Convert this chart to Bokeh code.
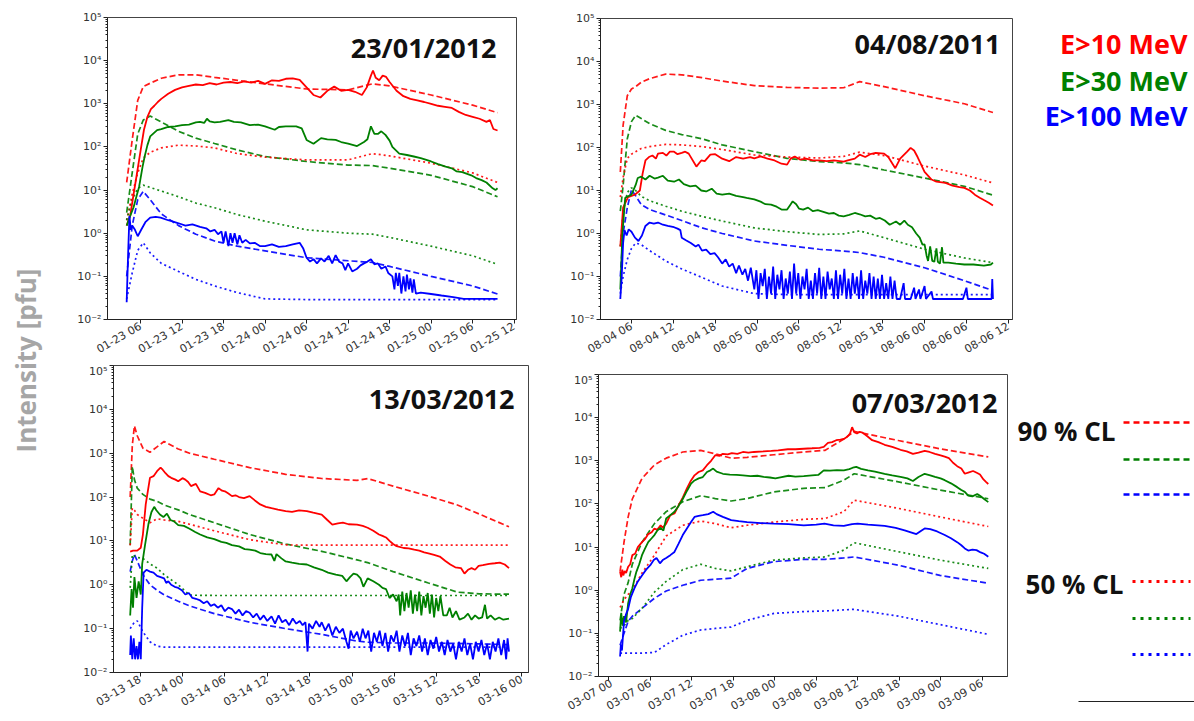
import math
import numpy as np
from bokeh.plotting import figure
from bokeh.layouts import row, column
from bokeh.models import Range1d, FixedTicker, CustomJSTickFormatter, Label, Spacer
from bokeh.embed import file_html
from bokeh.resources import INLINE

RED, GREEN, BLUE = "#ff0000", "#008000", "#0000ff"
FONT = "Open Sans"
TICK_FONT = "DejaVu Sans"

# ============================ DATA ============================
# hours are counted from each panel's base date (UTC)

# ---- Panel 1 : 23/01/2012 ----
p1_base = "2012-01-23T00:00"
p1_title = "23/01/2012"
p1_xlim = (1.23, 60.34)
p1_ticks = [6, 12, 18, 24, 30, 36, 42, 48, 54, 60]
p1_t_cl = [4.0, 4.8, 5.6, 6.4, 7.4, 9, 11.5, 14, 16.7, 20, 24, 30, 36, 39.5, 42, 48, 54, 57.6]
p1_red90 = [15, 145, 1200, 2500, 3000, 3900, 4700, 4700, 4100, 3500, 2900, 2200, 2100, 2900, 2600, 1600, 930, 620]
p1_red50 = [2, 8, 25, 55, 75, 95, 110, 105, 95, 70, 58, 50, 50, 70, 62, 42, 25, 15]
p1_grn90 = [3, 25, 200, 420, 520, 380, 230, 160, 120, 85, 60, 46, 38, 37, 32, 22, 12, 7]
p1_grn50 = [2, 6, 11, 13, 11.5, 9.5, 7, 5, 3.9, 2.7, 1.9, 1.2, 1.0, 0.95, 0.8, 0.5, 0.3, 0.19]
p1_blu90 = [0.1, 1.5, 6, 9.3, 6, 2.8, 1.5, 0.95, 0.66, 0.5, 0.39, 0.27, 0.23, 0.21, 0.17, 0.1, 0.06, 0.039]
p1_blu50 = [0.03, 0.12, 0.4, 0.6, 0.35, 0.2, 0.13, 0.085, 0.06, 0.042, 0.03, 0.029, 0.029, 0.029, 0.029, 0.029, 0.029, 0.029]
p1_red = [(4.0, 1.5), (4.5, 2.5), (5.0, 8), (5.5, 25), (6.0, 80), (6.5, 250), (7.0, 500), (7.5, 750), (8, 900), (8.5, 1100),
          (9, 1300), (10, 1700), (11, 2100), (12, 2400), (13, 2600), (14, 2800), (15, 2700), (16, 3000), (17, 2800), (18, 3100),
          (19, 3200), (20, 3000), (21, 3300), (22, 3100), (23, 3400), (24, 2900), (25, 3500), (26, 3400), (27, 3800), (28, 3900),
          (29, 3600), (30, 2400), (31, 1600), (32, 1400), (33, 2000), (34, 2500), (35, 2000), (36, 2100), (37, 1900), (38, 1600),
          (38.7, 2400), (39.3, 4500), (39.6, 5900), (40, 4000), (40.5, 3500), (41, 4500), (41.5, 4200), (42, 3200), (43, 2000),
          (44, 1500), (45, 1300), (46, 1200), (47, 1100), (48, 1000), (49, 900), (50, 850), (51, 800), (52, 650), (53, 550),
          (54, 500), (55, 450), (56, 380), (56.5, 420), (57, 260), (57.6, 240)]
p1_grn = [(4.0, 1.5), (4.5, 2.5), (5.0, 4), (5.5, 8), (5.8, 12), (6.3, 35), (6.6, 60), (7.0, 110), (7.4, 175), (8.4, 245),
          (9, 260), (10, 290), (11, 300), (12, 320), (13, 330), (14, 370), (14.6, 380), (15.2, 360), (15.6, 450), (16, 390),
          (16.7, 370), (17.5, 380), (18.7, 420), (19.5, 380), (20.5, 370), (21.8, 320), (23, 330), (24, 300), (25.4, 250),
          (26, 290), (27, 300), (28.5, 300), (29.3, 270), (30, 145), (31, 118), (32.1, 160), (33, 150), (34.2, 145), (35, 130),
          (36, 120), (37.3, 105), (38.3, 130), (38.8, 150), (39.3, 300), (39.8, 200), (40.3, 200), (40.8, 230), (41.4, 190),
          (42, 140), (42.4, 100), (43.4, 70), (44.5, 65), (45.5, 60), (46.5, 55), (48, 46), (49, 40), (50.1, 35), (51, 32),
          (51.7, 27), (52.5, 26), (53.8, 22), (54.5, 19), (55.3, 17), (56, 15), (56.9, 11), (57.3, 10), (57.6, 11)]
p1_blu = [(4.0, 0.025), (4.2, 0.3), (4.4, 2.5), (4.6, 1.2), (4.8, 1.5), (5.2, 1.2), (5.6, 0.85), (6.1, 1.2), (6.7, 1.8),
          (7.4, 2.3), (8.2, 2.4), (8.9, 2.3), (10, 2.0), (10.5, 1.9), (11.5, 1.7), (12.5, 1.5), (13.5, 1.6), (14.6, 1.4),
          (15.5, 1.3), (16.1, 1.1), (16.7, 1.2), (17.2, 0.95), (17.7, 1.1), (18.0, 0.6), (18.3, 1.1), (18.7, 0.5), (19.0, 1.0),
          (19.3, 0.6), (19.6, 1.0), (20.0, 0.55), (20.3, 0.9), (20.7, 0.6), (21.2, 0.7), (21.8, 0.58), (22.5, 0.6), (23.3, 0.5),
          (24, 0.5), (25, 0.55), (26, 0.48), (27, 0.5), (28, 0.55), (29, 0.6), (29.5, 0.45), (30, 0.27), (30.5, 0.22),
          (31, 0.25), (31.5, 0.2), (32.1, 0.26), (32.6, 0.22), (33.2, 0.3), (33.7, 0.2), (34.2, 0.31), (34.7, 0.22),
          (35.2, 0.2), (35.6, 0.14), (36, 0.2), (36.6, 0.13), (37.3, 0.15), (37.8, 0.18), (38.3, 0.2), (38.8, 0.22),
          (39.3, 0.25), (39.8, 0.19), (40.3, 0.2), (40.8, 0.15), (41.4, 0.17), (41.8, 0.12), (42.4, 0.1), (42.7, 0.05),
          (42.9, 0.12), (43.2, 0.06), (43.4, 0.12), (43.7, 0.04), (44.0, 0.1), (44.3, 0.045), (44.5, 0.11), (44.8, 0.05),
          (45.0, 0.09), (45.3, 0.042), (45.5, 0.085), (45.8, 0.04), (46.5, 0.042), (48, 0.039), (49.5, 0.036),
          (51.2, 0.033), (52.7, 0.03), (55, 0.03), (57.6, 0.03)]

# ---- Panel 2 : 04/08/2011 ----
p2_base = "2011-08-04T00:00"
p2_title = "04/08/2011"
p2_xlim = (1.56, 60.6)
p2_ticks = [6, 12, 18, 24, 30, 36, 42, 48, 54, 60]
p2_t_cl = [4.4, 4.8, 5.4, 6.0, 6.6, 7.4, 8.6, 10.9, 13.2, 16.1, 19, 23.6, 28.3, 32.9, 36.4, 38.7, 42.2, 48, 53.7, 57.8]
p2_red90 = [27, 330, 1600, 2300, 2600, 3300, 4000, 5100, 4900, 4200, 3500, 2750, 2500, 2400, 2450, 3400, 2600, 1600, 1040, 650]
p2_red50 = [7, 20, 56, 70, 80, 95, 105, 118, 115, 105, 90, 67, 60, 57, 62, 78, 65, 37, 23, 15]
p2_grn90 = [3.3, 13, 160, 400, 560, 470, 360, 250, 200, 160, 115, 80, 56, 47, 44, 40, 30, 19.5, 12.5, 7.8]
p2_grn50 = [0.5, 3, 9, 11.5, 10, 7.3, 5.8, 4.3, 3.3, 2.5, 1.95, 1.35, 1.1, 0.95, 0.98, 1.15, 0.8, 0.43, 0.27, 0.21]
p2_blu90 = [0.1, 1, 4, 10.5, 7.5, 4.7, 3.6, 2.7, 2.0, 1.35, 1.0, 0.67, 0.53, 0.43, 0.39, 0.36, 0.28, 0.16, 0.08, 0.047]
p2_blu50 = [0.04, 0.1, 0.25, 0.45, 0.6, 0.55, 0.4, 0.23, 0.15, 0.095, 0.06, 0.04, 0.038, 0.038, 0.038, 0.038, 0.038, 0.038, 0.038, 0.038]
p2_red = [(4.4, 0.5), (4.8, 4), (5.5, 7), (6.5, 8), (7.2, 10), (7.6, 25), (8.0, 50), (8.5, 60), (9, 65), (9.5, 55),
          (9.8, 72), (10.5, 75), (11, 65), (11.5, 80), (12.1, 80), (12.6, 70), (13.2, 75), (13.7, 80), (14.2, 72), (15.3, 36),
          (16, 50), (16.5, 48), (17.3, 68), (18, 70), (19, 55), (20, 48), (21, 60), (22, 55), (23, 60), (23.6, 56),
          (24.5, 62), (25.5, 55), (26.5, 50), (27.5, 42), (28.3, 40), (28.8, 55), (29.4, 62), (30.2, 52), (31, 55), (32, 50),
          (32.9, 50), (34, 48), (35, 50), (36.4, 47), (37, 50), (38, 55), (38.7, 68), (39.5, 60), (40.2, 70), (41, 75),
          (42.2, 72), (42.8, 60), (43.8, 33), (44.5, 55), (45.5, 80), (46, 98), (46.5, 85), (47, 60), (48, 27), (49, 18),
          (49.7, 16), (51, 15), (52, 13), (53, 12), (53.7, 11.5), (54.5, 10), (55.2, 8), (55.9, 6.8), (56.5, 6), (57.2, 5.2),
          (57.8, 4.5)]
p2_grn = [(4.4, 0.05), (4.7, 1), (5.1, 6.8), (6.0, 8), (6.6, 13.5), (6.9, 19.5), (7.4, 21), (8.0, 18), (8.6, 22), (9.3, 19),
          (9.8, 20), (10.5, 22), (11.2, 17), (12.1, 16), (12.8, 18), (13.5, 14), (14.4, 12.5), (15.2, 13), (16, 10),
          (16.7, 9.5), (17.5, 11), (18.2, 8.5), (19, 8), (20, 8.5), (21, 7.5), (22, 7), (22.5, 6.7), (23.6, 6.2), (24.5, 5.5),
          (25.2, 4.8), (26, 4.7), (26.8, 4.2), (27.5, 3.6), (28.3, 3.6), (28.7, 4.5), (29.1, 5.6), (29.6, 4.8), (30.0, 3.8),
          (30.6, 3.6), (31.3, 4), (32, 3.3), (32.7, 3.5), (33.5, 3.2), (34.3, 2.9), (35, 3.0), (35.7, 2.6), (36.4, 2.5),
          (37.2, 2.7), (38, 3.0), (38.7, 2.8), (39.5, 2.5), (40.2, 2.6), (41, 2.2), (41.6, 2.3), (42.3, 2.0), (43, 1.6),
          (43.9, 1.9), (44.5, 1.6), (45.1, 2.0), (45.6, 1.6), (46.2, 1.4), (46.8, 1.0), (47.3, 0.8), (47.7, 0.55),
          (48.0, 0.56), (48.3, 0.3), (48.5, 0.23), (48.8, 0.5), (49.1, 0.23), (49.4, 0.22), (49.7, 0.45), (49.9, 0.22),
          (50.2, 0.2), (50.5, 0.48), (50.7, 0.21), (51.4, 0.21), (52.5, 0.2), (53.7, 0.19), (55, 0.19), (56.5, 0.18),
          (57.5, 0.19), (57.8, 0.21)]
p2_blu = [(4.4, 0.03), (4.6, 0.1), (4.8, 0.6), (5.0, 1.2), (5.3, 0.9), (5.6, 1.25), (6.0, 1.1), (6.5, 0.8), (7.0, 0.67),
          (7.5, 0.9), (8.0, 1.5), (8.6, 1.8), (9.2, 1.7), (9.8, 1.8), (10.5, 1.6), (11.2, 1.5), (12.1, 1.4), (12.6, 1.3),
          (13.0, 1.2), (13.2, 0.8), (13.8, 0.7), (14.5, 0.6), (15.2, 0.5), (15.6, 0.55), (16.1, 0.4), (16.7, 0.42),
          (17.3, 0.33), (17.9, 0.35), (18.4, 0.28), (19, 0.2), (19.5, 0.25), (20, 0.17), (20.5, 0.2), (21, 0.12), (21.4, 0.18),
          (21.9, 0.11), (22.3, 0.15), (22.7, 0.08), (23.1, 0.16), (23.6, 0.05), (23.9, 0.14), (24.2, 0.03), (24.5, 0.12),
          (24.8, 0.06), (25.1, 0.15), (25.4, 0.03), (25.7, 0.1), (26.0, 0.04), (26.3, 0.17), (26.6, 0.03), (26.9, 0.11),
          (27.2, 0.05), (27.5, 0.14), (27.8, 0.03), (28.1, 0.09), (28.4, 0.04), (28.7, 0.13), (29.0, 0.03), (29.3, 0.2),
          (29.6, 0.04), (29.9, 0.12), (30.2, 0.03), (30.5, 0.1), (30.8, 0.05), (31.1, 0.15), (31.4, 0.03), (31.7, 0.08),
          (32.0, 0.03), (32.3, 0.12), (32.6, 0.04), (32.9, 0.16), (33.2, 0.03), (33.5, 0.1), (33.8, 0.03), (34.1, 0.13),
          (34.4, 0.05), (34.7, 0.09), (35.0, 0.03), (35.3, 0.14), (35.6, 0.03), (35.9, 0.11), (36.2, 0.04), (36.5, 0.15),
          (36.8, 0.03), (37.1, 0.09), (37.4, 0.03), (37.7, 0.12), (38.0, 0.04), (38.3, 0.1), (38.6, 0.03), (38.9, 0.14),
          (39.2, 0.03), (39.5, 0.08), (39.8, 0.04), (40.1, 0.12), (40.4, 0.03), (40.7, 0.1), (41.0, 0.03), (41.3, 0.09),
          (41.6, 0.03), (41.9, 0.11), (42.2, 0.03), (42.5, 0.07), (42.8, 0.03), (43.1, 0.1), (43.4, 0.03), (43.7, 0.08),
          (44.0, 0.03), (44.5, 0.03), (45.0, 0.07), (45.2, 0.03), (46.0, 0.03), (46.5, 0.055), (46.7, 0.03), (47.2, 0.05),
          (47.4, 0.03), (48.0, 0.06), (48.2, 0.03), (49.0, 0.045), (49.2, 0.03), (50, 0.03), (52, 0.03), (53.5, 0.03),
          (54.0, 0.055), (54.2, 0.03), (56, 0.03), (57.6, 0.03), (57.7, 0.087), (57.8, 0.03)]

# ---- Panel 3 : 13/03/2012 ----
p3_base = "2012-03-13T00:00"
p3_title = "13/03/2012"
p3_xlim = (14.24, 72.96)
p3_ticks = [18, 24, 30, 36, 42, 48, 54, 60, 66, 72]
p3_t_cl = [16.6, 16.9, 17.2, 17.6, 18.4, 19.4, 20.4, 21.4, 23.4, 25, 28.5, 33.5, 38.6, 43.7, 48.7, 50.2, 53.8, 58.8, 62.9, 66, 70.2]
p3_red90 = [100, 1500, 4200, 2500, 1300, 1050, 1400, 1850, 1250, 1000, 730, 470, 330, 265, 240, 265, 178, 105, 66, 41, 21]
p3_red50 = [8, 56, 50, 40, 33, 26, 32, 30, 28, 24, 17, 10.7, 8.1, 8, 8, 8, 8, 8, 8, 8, 8]
p3_grn90 = [8, 500, 250, 160, 115, 90, 80, 66, 51, 40, 26, 14, 8.5, 5.8, 3.7, 3.2, 2.0, 1.1, 0.68, 0.62, 0.61]
p3_grn50 = [0.85, 4.9, 4.5, 4.2, 4.0, 3.0, 2.4, 1.7, 1.0, 0.58, 0.57, 0.57, 0.57, 0.57, 0.57, 0.57, 0.57, 0.57, 0.57, 0.57, 0.57]
p3_blu90 = [2, 3.5, 4.9, 3.5, 1.7, 1.0, 0.75, 0.59, 0.42, 0.33, 0.22, 0.14, 0.1, 0.074, 0.052, 0.049, 0.047, 0.047, 0.046, 0.045, 0.043]
p3_blu50 = [0.1, 0.12, 0.14, 0.15, 0.085, 0.05, 0.04, 0.038, 0.038, 0.038, 0.038, 0.038, 0.038, 0.038, 0.038, 0.038, 0.038, 0.038, 0.038, 0.038, 0.038]
p3_red = [(16.6, 5.7), (17.0, 6), (17.6, 6), (18.1, 7), (18.4, 14), (18.8, 68), (19.4, 275), (19.9, 300), (20.4, 390),
          (20.9, 470), (21.2, 420), (21.6, 350), (22.0, 300), (22.4, 275), (23.0, 250), (23.4, 230), (24.0, 270), (24.4, 250),
          (24.8, 220), (25.2, 178), (25.9, 200), (26.5, 135), (27.2, 125), (28.0, 110), (28.5, 115), (29.1, 160), (29.6, 140),
          (30, 135), (30.5, 120), (31, 105), (31.5, 110), (32, 100), (32.7, 95), (33.5, 105), (34.2, 85), (35, 68), (35.8, 60),
          (36.6, 56), (37.5, 52), (38.6, 48), (39.5, 46), (40.5, 50), (41.6, 48), (42.5, 44), (43.7, 40), (44.5, 30),
          (45.2, 23.5), (46, 25), (46.7, 26), (47.5, 24), (48.7, 23.5), (49.5, 22), (50.2, 20), (51, 17), (51.8, 14),
          (52.3, 13), (52.8, 12), (53.3, 10), (53.8, 8.5), (54.3, 7.6), (55.3, 6.9), (56, 6.8), (56.8, 6.3), (57.5, 6),
          (58.2, 5.5), (58.8, 5.2), (59.6, 4.8), (60.4, 4.4), (61.2, 3.5), (61.9, 2.9), (62.6, 2.5), (63.4, 2.4), (63.9, 1.8),
          (64.4, 2.2), (64.9, 2.4), (65.4, 2.2), (65.9, 2.7), (66.5, 2.8), (67.4, 3.0), (68.2, 3.1), (68.9, 3.2), (69.6, 2.9),
          (70.2, 2.4)]
p3_grn = [(16.6, 0.2), (16.8, 0.8), (17.0, 0.3), (17.2, 1.5), (17.5, 0.5), (17.8, 1.2), (18.1, 0.6), (18.3, 3), (18.7, 8),
          (19.2, 25), (19.6, 45), (20.0, 60), (20.3, 50), (20.8, 40), (21.3, 35), (21.8, 42), (22.3, 30), (22.8, 28),
          (23.4, 23), (24.2, 22), (25, 19), (25.8, 16), (26.5, 14), (27.5, 12), (28.5, 11), (29.5, 9.5), (30.2, 9), (31, 8),
          (32, 7.5), (32.8, 6.5), (33.5, 6.3), (34.3, 6), (35, 5.3), (35.8, 5), (36.6, 4.9), (37.0, 3.5), (37.3, 5), (38.0, 4),
          (38.6, 3.4), (39.5, 3.2), (40.5, 3.0), (41.6, 2.9), (42.6, 2.5), (43.7, 2.2), (44.6, 1.9), (45.7, 1.7), (46.6, 1.6),
          (47.2, 1.2), (47.7, 1.5), (48.2, 1.8), (48.7, 1.7), (49.2, 1.4), (49.6, 0.9), (50.2, 1.4), (51.0, 1.2), (51.8, 1.0),
          (52.3, 0.85), (52.8, 0.8), (53.3, 0.5), (53.8, 0.6), (54.3, 0.42), (54.6, 0.6), (54.8, 0.2), (55.1, 0.7),
          (55.4, 0.25), (55.7, 0.65), (56.0, 0.3), (56.3, 0.75), (56.6, 0.22), (56.9, 0.6), (57.2, 0.25), (57.5, 0.7),
          (57.8, 0.2), (58.1, 0.55), (58.4, 0.3), (58.7, 0.65), (59.0, 0.22), (59.3, 0.6), (59.6, 0.18), (59.9, 0.5),
          (60.2, 0.25), (60.5, 0.55), (60.9, 0.2), (61.4, 0.2), (61.8, 0.3), (62.2, 0.18), (62.7, 0.25), (63.2, 0.16),
          (63.9, 0.18), (64.4, 0.22), (64.9, 0.16), (65.4, 0.2), (65.9, 0.17), (66.4, 0.18), (66.8, 0.35), (67.1, 0.17),
          (67.6, 0.2), (68.2, 0.16), (68.8, 0.18), (69.4, 0.16), (70.2, 0.17)]
p3_blu = [(16.6, 0.025), (16.7, 0.07), (16.9, 0.02), (17.1, 0.06), (17.3, 0.02), (17.5, 0.04), (17.7, 0.02), (17.9, 0.05),
          (18.1, 0.02), (18.3, 0.3), (18.5, 1.9), (18.9, 2.2), (19.4, 2.0), (19.9, 1.9), (20.4, 1.6), (20.9, 1.5), (21.4, 1.4),
          (21.7, 1.1), (22.0, 1.2), (22.4, 1.0), (22.9, 0.9), (23.4, 0.85), (23.9, 0.75), (24.4, 0.6), (24.9, 0.65),
          (25.4, 0.5), (25.9, 0.48), (26.5, 0.44), (27, 0.38), (27.5, 0.42), (28, 0.33), (28.5, 0.36), (29, 0.3), (29.5, 0.34),
          (30, 0.25), (30.5, 0.3), (31, 0.28), (31.5, 0.22), (32, 0.27), (32.5, 0.2), (33, 0.25), (33.5, 0.23), (34, 0.18),
          (34.5, 0.22), (35, 0.16), (35.5, 0.2), (36, 0.15), (36.6, 0.19), (37.1, 0.13), (37.6, 0.2), (38.1, 0.14),
          (38.6, 0.16), (39.1, 0.12), (39.6, 0.17), (40.1, 0.13), (40.6, 0.15), (41.0, 0.12), (41.4, 0.14), (41.7, 0.03),
          (41.9, 0.13), (42.4, 0.1), (42.9, 0.15), (43.4, 0.11), (43.7, 0.14), (44.2, 0.09), (44.7, 0.13), (45.2, 0.07),
          (45.7, 0.11), (46.2, 0.08), (46.7, 0.1), (47.2, 0.05), (47.5, 0.035), (47.8, 0.09), (48.2, 0.06), (48.7, 0.085),
          (49.1, 0.05), (49.5, 0.1), (49.9, 0.06), (50.3, 0.09), (50.7, 0.03), (51.1, 0.08), (51.5, 0.05), (51.9, 0.09),
          (52.3, 0.04), (52.7, 0.08), (53.1, 0.03), (53.5, 0.07), (53.9, 0.05), (54.3, 0.09), (54.7, 0.03), (55.1, 0.07),
          (55.5, 0.04), (55.9, 0.08), (56.3, 0.025), (56.7, 0.06), (57.1, 0.04), (57.5, 0.07), (57.9, 0.03), (58.3, 0.06),
          (58.7, 0.025), (59.1, 0.055), (59.5, 0.035), (59.9, 0.065), (60.3, 0.03), (60.7, 0.05), (61.1, 0.025),
          (61.5, 0.055), (61.9, 0.03), (62.3, 0.045), (62.7, 0.02), (63.1, 0.05), (63.5, 0.03), (63.9, 0.06), (64.3, 0.025),
          (64.7, 0.045), (65.1, 0.02), (65.5, 0.05), (65.9, 0.03), (66.3, 0.055), (66.7, 0.025), (67.1, 0.045), (67.5, 0.02),
          (67.9, 0.05), (68.3, 0.03), (68.7, 0.06), (69.1, 0.025), (69.5, 0.055), (69.8, 0.02), (70.0, 0.06), (70.2, 0.03)]

# ---- Panel 4 : 07/03/2012 ----
p4_base = "2012-03-07T00:00"
p4_title = "07/03/2012"
p4_xlim = (-1.49, 57.68)
p4_ticks = [0, 6, 12, 18, 24, 30, 36, 42, 48, 54]
p4_t_cl = [1.63, 2.2, 2.8, 3.4, 4.8, 6.6, 8.3, 10.7, 13.3, 15.4, 17.7, 20, 23.9, 28.2, 31.3, 34, 35.5, 41.9, 47.9, 54.9]
p4_red90 = [2.7, 13, 50, 130, 390, 800, 1150, 1600, 1740, 1450, 1150, 1200, 1380, 1600, 1750, 3200, 4800, 2950, 1900, 1230]
p4_red50 = [0.4, 0.6, 0.8, 1.0, 2.5, 6.5, 18, 32, 40, 35, 28, 32, 38, 44, 46, 66, 122, 79, 50, 30]
p4_grn90 = [0.2, 0.8, 1.5, 4, 13, 35, 66, 112, 155, 133, 117, 133, 190, 230, 240, 355, 500, 325, 210, 132]
p4_grn50 = [0.13, 0.15, 0.2, 0.22, 0.38, 0.9, 1.6, 3.0, 4.0, 3.2, 2.8, 3.5, 5.0, 5.6, 5.9, 8.5, 12.6, 7.8, 5.0, 3.2]
p4_blu90 = [0.053, 0.1, 0.19, 0.25, 0.38, 0.65, 0.96, 1.3, 1.7, 1.8, 1.9, 3.2, 4.6, 5.2, 5.2, 5.6, 5.9, 3.8, 2.2, 1.45]
p4_blu50 = [0.035, 0.035, 0.035, 0.035, 0.035, 0.036, 0.055, 0.09, 0.12, 0.13, 0.14, 0.2, 0.29, 0.32, 0.33, 0.35, 0.36, 0.25, 0.16, 0.095]
p4_red = [(1.63, 2.7), (1.8, 2.0), (1.95, 3), (2.1, 2.2), (2.3, 2.8), (2.5, 2.5), (2.8, 3.5), (3.1, 4), (3.4, 6.5), (3.8, 7),
          (4.2, 10), (4.8, 13), (5.2, 15), (5.7, 20), (6.2, 22), (6.6, 27), (7.0, 25), (7.5, 32), (7.8, 28), (8.3, 35),
          (8.9, 55), (9.5, 60), (10.1, 93), (10.7, 140), (11.3, 230), (11.8, 330), (12.4, 460), (13.0, 550), (13.6, 600),
          (14.2, 790), (14.8, 1000), (15.4, 1350), (16.0, 1300), (16.5, 1450), (17.2, 1400), (17.8, 1500), (18.6, 1450),
          (19.4, 1600), (20.2, 1550), (21, 1600), (22.4, 1650), (23.5, 1700), (24.5, 1750), (25.9, 1850), (27, 1850),
          (28.2, 1900), (29.4, 1950), (30.5, 2000), (31.1, 2100), (31.7, 2600), (32.3, 2700), (32.9, 3000), (33.5, 3100),
          (34.0, 3200), (34.5, 3600), (34.9, 4300), (35.2, 6000), (35.5, 4600), (35.9, 4300), (36.3, 4700), (36.7, 4500),
          (37.4, 3700), (38.1, 3000), (39.0, 2700), (39.9, 2350), (41, 2100), (42.2, 1800), (43.1, 1650), (44, 1450),
          (44.8, 1550), (45.7, 1700), (46.4, 1600), (47.2, 1450), (48, 1340), (48.6, 1250), (49.2, 1150), (49.8, 900),
          (50.4, 750), (51, 660), (51.5, 500), (52.1, 540), (52.7, 580), (53.3, 520), (53.7, 480), (54.2, 370), (54.6, 320),
          (54.9, 290)]
p4_grn = [(1.63, 0.11), (1.8, 0.3), (2.0, 0.15), (2.2, 0.25), (2.5, 0.18), (2.8, 0.5), (3.1, 0.8), (3.4, 1.1), (3.7, 1.8),
          (4.0, 2.7), (4.4, 4), (4.8, 6.5), (5.2, 9), (5.7, 13), (6.2, 16), (6.6, 19), (7.0, 24), (7.5, 28), (7.9, 24),
          (8.3, 46), (8.9, 55), (9.5, 66), (10.1, 90), (10.7, 130), (11.3, 200), (11.9, 296), (12.4, 350), (13.0, 390),
          (13.6, 420), (14.2, 550), (14.7, 600), (15.1, 660), (15.6, 560), (16.5, 500), (17.5, 480), (18.5, 470), (19.4, 460),
          (20.5, 440), (21.5, 450), (22.4, 425), (23.3, 410), (24.1, 390), (25, 420), (26, 450), (27, 430), (28.2, 440),
          (29.4, 460), (30.3, 470), (31.1, 600), (32, 590), (33, 610), (34, 600), (34.8, 640), (35.3, 690), (35.8, 720),
          (36.5, 650), (37.5, 600), (38.5, 560), (39.9, 500), (41, 460), (42.2, 425), (43.2, 390), (44, 340), (44.8, 420),
          (45.7, 500), (46.5, 460), (47.2, 425), (48, 390), (48.6, 355), (49.5, 300), (50.4, 245), (51, 210), (51.5, 190),
          (52, 155), (52.6, 150), (53.3, 170), (53.8, 150), (54.3, 130), (54.9, 110)]
p4_blu = [(1.63, 0.029), (1.75, 0.055), (1.9, 0.04), (2.2, 0.19), (2.5, 0.28), (2.8, 0.37), (3.2, 0.7), (3.7, 1.1),
          (4.2, 1.6), (4.8, 2.2), (5.4, 3.0), (6.0, 3.8), (6.5, 5), (6.9, 5.6), (7.4, 4.2), (7.8, 5), (8.3, 5.6), (8.9, 6.5),
          (9.5, 7.7), (10.1, 12), (10.7, 19), (11.3, 27), (11.9, 38), (12.4, 50), (13.0, 53), (13.6, 55), (14.4, 58),
          (15.1, 66), (15.6, 58), (16.5, 50), (17.7, 42), (18.8, 40), (20, 38), (22, 36), (23.9, 35), (26, 34), (28.2, 32),
          (30, 33), (31.2, 35), (32.5, 32), (34, 31), (35.2, 34), (36, 35), (37.5, 33), (39.9, 31), (41.5, 28), (42.8, 24.5),
          (43.7, 22), (44.5, 20), (45.2, 24), (45.7, 27), (46.5, 26), (47.5, 23), (48.6, 19), (49.5, 16), (50.4, 13),
          (51, 11), (51.5, 9.3), (52.0, 8.3), (52.6, 8.7), (53.2, 8.5), (53.8, 7.5), (54.3, 7), (54.9, 6)]

legend_energy = ["E>10 MeV", "E>30 MeV", "E>100 MeV"]
legend_cl = ["90 % CL", "50 % CL"]
y_label = "Intensity [pfu]"

# ============================ LAYOUT ============================
# figure width/height, borders (left, right, top, bottom), spacer above/below,
# title anchor (hour, log10 y)
P1_GEOM = dict(w=515, h=364, b=(57, 49, 17, 42), pad=(0, 0), title_at=(57.45, 4.31))
P2_GEOM = dict(w=450, h=363, b=(35, 3, 17, 42), pad=(1, 0), title_at=(58.87, 4.42))
P3_GEOM = dict(w=515, h=353, b=(63, 37, 1, 45), pad=(0, 4), title_at=(70.98, 4.25))
P4_GEOM = dict(w=450, h=348, b=(32, 8, 1, 45), pad=(9, 0), title_at=(56.23, 4.36))

COLORS = [RED, GREEN, BLUE]
DASH90 = "6 3"
DASH50 = "2 3"


def to_ms(base, hours):
    b = np.datetime64(base, "ms").astype("int64")
    return b + np.asarray(hours, dtype=float) * 3600e3


X_FMT = CustomJSTickFormatter(code="""
const d = new Date(tick);
const p = (n) => (n < 10 ? '0' : '') + n;
return p(d.getUTCMonth() + 1) + '-' + p(d.getUTCDate()) + ' ' + p(d.getUTCHours());
""")

Y_FMT = CustomJSTickFormatter(code="""
const e = Math.round(Math.log10(tick));
const m = {'-':'\u207b','0':'\u2070','1':'\u00b9','2':'\u00b2','3':'\u00b3','4':'\u2074','5':'\u2075','6':'\u2076','7':'\u2077','8':'\u2078','9':'\u2079'};
let s = '';
for (const c of String(e)) { s += m[c]; }
return '10' + s;
""")


def make_panel(base, xlim, ticks, t_cl, cl90, cl50, solids, title, geom):
    bl, br, bt, bb = geom["b"]
    p = figure(width=geom["w"], height=geom["h"], x_axis_type="datetime", y_axis_type="log",
               x_range=Range1d(*to_ms(base, list(xlim))), y_range=Range1d(1e-2, 1e5),
               toolbar_location=None, output_backend="svg",
               min_border_left=bl, min_border_right=br, min_border_top=bt, min_border_bottom=bb)
    p.outline_line_color = "#444444"
    p.outline_line_width = 1
    p.xgrid.visible = False
    p.ygrid.visible = False
    p.background_fill_color = "white"
    p.border_fill_color = "white"

    xt = to_ms(base, ticks)
    p.xaxis.ticker = FixedTicker(ticks=[float(v) for v in xt])
    p.xaxis.formatter = X_FMT
    p.xaxis.major_label_orientation = math.pi / 6
    p.yaxis.ticker = FixedTicker(ticks=[10.0 ** k for k in range(-2, 6)],
                                 minor_ticks=[m * 10.0 ** k for k in range(-2, 5) for m in range(2, 10)])
    p.yaxis.formatter = Y_FMT
    for ax in (p.xaxis[0], p.yaxis[0]):
        ax.axis_line_color = "#222222"
        ax.major_tick_line_color = "#222222"
        ax.major_tick_out = 4
        ax.major_tick_in = 0
        ax.minor_tick_out = 2
        ax.minor_tick_in = 0
        ax.major_label_standoff = 2
        ax.major_label_text_font = TICK_FONT
        ax.major_label_text_font_size = "11px"
        ax.major_label_text_color = "#333333"
    p.xaxis.minor_tick_line_color = None
    p.yaxis.minor_tick_line_color = "#222222"

    tx = to_ms(base, t_cl)
    for vals, col in zip(cl90, COLORS):
        p.line(tx, vals, line_color=col, line_width=1.7, line_dash=DASH90, line_alpha=0.9)
    for vals, col in zip(cl50, COLORS):
        p.line(tx, vals, line_color=col, line_width=1.7, line_dash=DASH50, line_alpha=0.9)
    for pairs, col in zip(solids, COLORS):
        hs = [a for a, _ in pairs]
        vs = [b for _, b in pairs]
        p.line(to_ms(base, hs), vs, line_color=col, line_width=1.8)

    th, tl = geom["title_at"]
    p.add_layout(Label(x=float(to_ms(base, [th])[0]), y=10 ** tl, text=title,
                       text_align="right", text_baseline="alphabetic",
                       text_font=FONT, text_font_style="bold", text_font_size="27px",
                       text_color="#111111"))

    above, below = geom["pad"]
    kids = []
    if above:
        kids.append(Spacer(width=geom["w"], height=above))
    kids.append(p)
    if below:
        kids.append(Spacer(width=geom["w"], height=below))
    return column(*kids, spacing=0)


f1 = make_panel(p1_base, p1_xlim, p1_ticks, p1_t_cl, [p1_red90, p1_grn90, p1_blu90],
                [p1_red50, p1_grn50, p1_blu50], [p1_red, p1_grn, p1_blu], p1_title, P1_GEOM)
f2 = make_panel(p2_base, p2_xlim, p2_ticks, p2_t_cl, [p2_red90, p2_grn90, p2_blu90],
                [p2_red50, p2_grn50, p2_blu50], [p2_red, p2_grn, p2_blu], p2_title, P2_GEOM)
f3 = make_panel(p3_base, p3_xlim, p3_ticks, p3_t_cl, [p3_red90, p3_grn90, p3_blu90],
                [p3_red50, p3_grn50, p3_blu50], [p3_red, p3_grn, p3_blu], p3_title, P3_GEOM)
f4 = make_panel(p4_base, p4_xlim, p4_ticks, p4_t_cl, [p4_red90, p4_grn90, p4_blu90],
                [p4_red50, p4_grn50, p4_blu50], [p4_red, p4_grn, p4_blu], p4_title, P4_GEOM)


def blank(width, x0, x1):
    b = figure(width=width, height=721, x_range=Range1d(x0, x1), y_range=Range1d(721, 0),
               toolbar_location=None, output_backend="svg", x_axis_location=None, y_axis_location=None,
               min_border=0, min_border_left=0, min_border_right=0, min_border_top=0, min_border_bottom=0)
    b.outline_line_color = None
    b.xgrid.visible = False
    b.ygrid.visible = False
    return b


# y label strip (image pixel coordinates)
lab = blank(50, 0, 50)
lab.add_layout(Label(x=25, y=360, text=y_label, angle=math.pi / 2, text_align="center",
                     text_baseline="middle", text_font=FONT, text_font_style="bold",
                     text_font_size="26px", text_color="#a6a6a6"))

# legend strip (image pixel coordinates)
leg = blank(179, 1015, 1194)
for txt, col, yb in zip(legend_energy, COLORS, [43, 80, 115]):
    leg.add_layout(Label(x=1187, y=yb, text=txt, text_align="right", text_baseline="alphabetic",
                         text_font=FONT, text_font_style="bold", text_font_size="27px", text_color=col))
leg.add_layout(Label(x=1115, y=430, text=legend_cl[0], text_align="right", text_baseline="alphabetic",
                     text_font=FONT, text_font_style="bold", text_font_size="26px", text_color="#111111"))
leg.add_layout(Label(x=1123, y=583, text=legend_cl[1], text_align="right", text_baseline="alphabetic",
                     text_font=FONT, text_font_style="bold", text_font_size="26px", text_color="#111111"))
for col, yy in zip(COLORS, [422, 459, 494]):
    leg.line([1123, 1190], [yy, yy], line_color=col, line_width=2.5, line_dash="6 4")
for col, yy in zip(COLORS, [581, 618, 654]):
    leg.line([1132, 1190], [yy, yy], line_color=col, line_width=3, line_dash="3 5")
leg.line([1078, 1194], [701, 701], line_color="#222222", line_width=1)

grid = column(row(f1, f2, spacing=0), row(f3, f4, spacing=0), spacing=0)
layout = row(lab, grid, leg, spacing=0)

with open("out.html", "w") as fh:
    fh.write(file_html(layout, INLINE))
